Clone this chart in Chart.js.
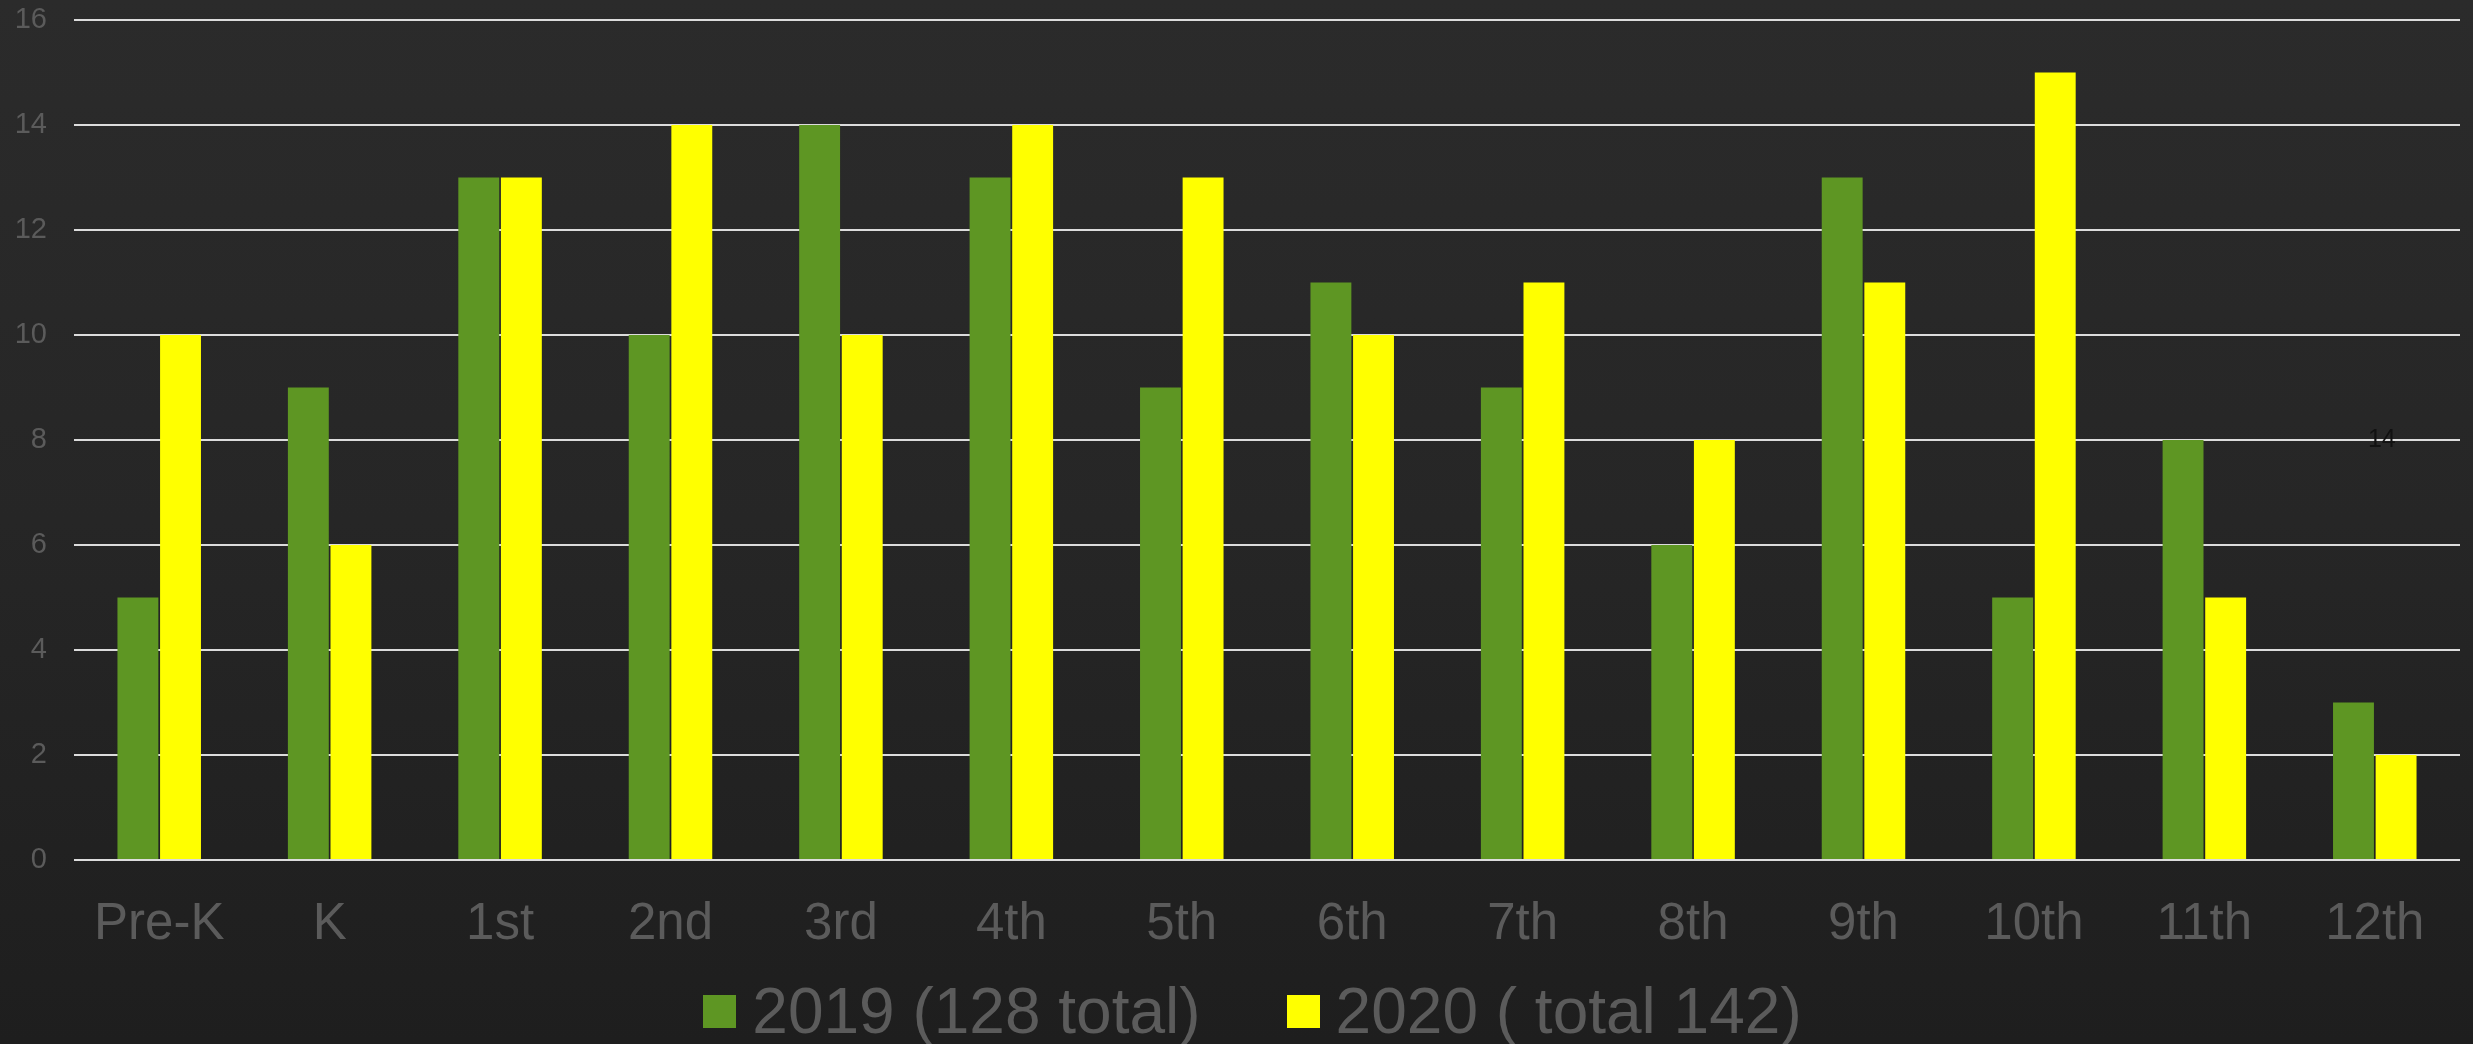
<!DOCTYPE html>
<html>
<head>
<meta charset="utf-8">
<script src="https://cdn.jsdelivr.net/npm/chart.js@4.4.1/dist/chart.umd.min.js"></script>
<style>
  html, body {
    margin: 0;
    padding: 0;
    width: 2473px;
    height: 1044px;
    overflow: hidden;
    background: linear-gradient(180deg, #2b2b2b 0%, #262626 50%, #1e1e1e 100%);
    font-family: 'Liberation Sans', Arial, sans-serif;
  }
  .chart-wrap {
    position: relative;
    width: 2473px;
    height: 960px;
  }
  #grade-legend {
    height: 84px;
    padding-top: 18px;
    padding-left: 32px;
    box-sizing: border-box;
    display: flex;
    justify-content: center;
    align-items: center;
  }
  .legend-item {
    display: flex;
    align-items: center;
    font-size: 64px;
    line-height: 1;
    color: #5b5b5b;
    margin: 0 43px;
    white-space: nowrap;
  }
  .legend-dot {
    display: inline-block;
    width: 33px;
    height: 33px;
    margin-right: 16px;
  }
</style>
</head>
<body>
<div class="chart-wrap"><canvas id="grade-chart"></canvas></div>
<div id="grade-legend"></div>

<script>
const GRADES = ['Pre-K', 'K', '1st', '2nd', '3rd', '4th', '5th', '6th', '7th', '8th', '9th', '10th', '11th', '12th'];
const COUNTS_2019 = [5, 9, 13, 10, 14, 13, 9, 11, 9, 6, 13, 5, 8, 3];
const COUNTS_2020 = [10, 6, 13, 14, 10, 14, 13, 10, 11, 8, 11, 15, 5, 2];
const SERIES_LABELS = ['2019 (128 total)', '2020 ( total 142)'];
const Y_TICKS = { min: 0, max: 16, step: 2 };
// stray label left on the slide
const STRAY_LABEL = { text: '14', category: 13, value: 8 };

const GREEN = '#5e9623';
const YELLOW = '#ffff00';
const FONT = "'Liberation Sans', Arial, sans-serif";

const strayLabel = {
  id: 'strayLabel',
  afterDatasetsDraw(chart) {
    const { ctx, scales } = chart;
    const x = scales.x.getPixelForValue(STRAY_LABEL.category) + 7;
    const y = scales.y.getPixelForValue(STRAY_LABEL.value);
    ctx.save();
    ctx.font = '25px ' + FONT;
    ctx.fillStyle = '#111111';
    ctx.textAlign = 'center';
    ctx.textBaseline = 'middle';
    ctx.fillText(STRAY_LABEL.text, x, y);
    ctx.restore();
  }
};

const canvas = document.getElementById('grade-chart');
new Chart(canvas.getContext('2d'), {
  type: 'bar',
  data: {
    labels: GRADES,
    datasets: [
      {
        label: SERIES_LABELS[0],
        data: COUNTS_2019,
        backgroundColor: GREEN,
        borderWidth: 0,
        categoryPercentage: 0.5,
        barPercentage: 0.96
      },
      {
        label: SERIES_LABELS[1],
        data: COUNTS_2020,
        backgroundColor: YELLOW,
        borderWidth: 0,
        categoryPercentage: 0.5,
        barPercentage: 0.96
      }
    ]
  },
  options: {
    responsive: true,
    maintainAspectRatio: false,
    animation: false,
    layout: { padding: { top: 20, left: 14, right: 13, bottom: 0 } },
    plugins: {
      legend:  { display: false },
      tooltip: { enabled: false }
    },
    scales: {
      x: {
        grid:   { display: false, drawTicks: false },
        border: { display: false },
        ticks: {
          color: '#5b5b5b',
          font: { family: FONT, size: 51 },
          padding: 34,
          maxRotation: 0,
          autoSkip: false
        },
        afterFit(scale) { scale.height = 100; }
      },
      y: {
        min: Y_TICKS.min,
        max: Y_TICKS.max,
        grid:   { color: '#dcdcdc', lineWidth: 2, drawTicks: false },
        border: { display: false },
        ticks: {
          stepSize: Y_TICKS.step,
          color: '#5b5b5b',
          font: { family: FONT, size: 29 },
          padding: 27
        },
        afterFit(scale) {
          scale.width = 60;
          scale.paddingTop = 0;
          scale.paddingBottom = 0;
        }
      }
    }
  },
  plugins: [strayLabel]
});

const legendEl = document.getElementById('grade-legend');
const legendItems = [
  { color: GREEN,  label: SERIES_LABELS[0] },
  { color: YELLOW, label: SERIES_LABELS[1] }
];
legendEl.innerHTML = legendItems.map(item =>
  `<span class="legend-item"><span class="legend-dot" style="background:${item.color};"></span>${item.label}</span>`
).join('');
</script>
</body>
</html>
